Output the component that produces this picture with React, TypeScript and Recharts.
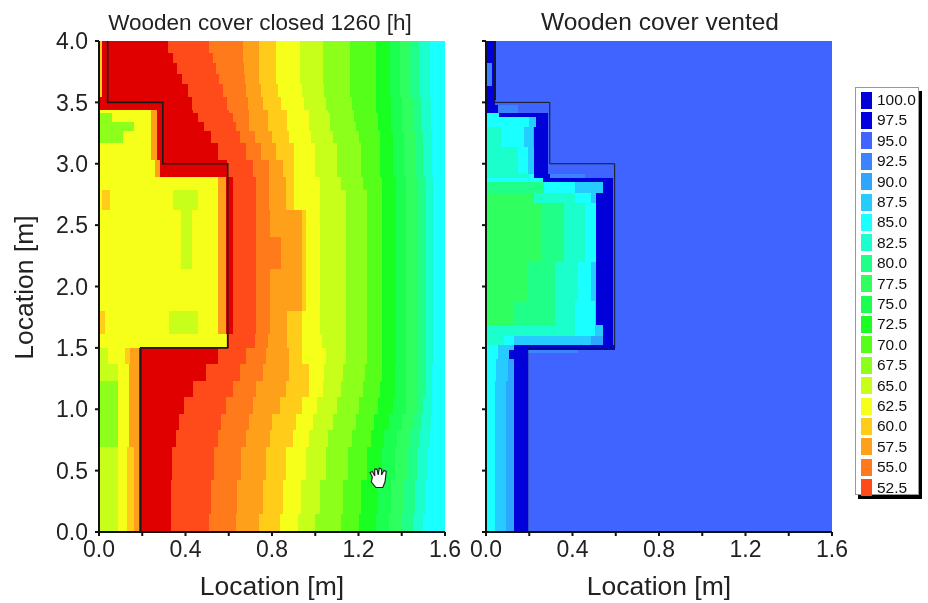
import React from 'react';
import { ScatterChart, Scatter, XAxis, YAxis, ReferenceArea, ReferenceDot } from 'recharts';

// contour level -> colour, 50 is the saturated red under the scale
const levels = [100, 97.5, 95, 92.5, 90, 87.5, 85, 82.5, 80, 77.5, 75, 72.5, 70, 67.5, 65, 62.5, 60, 57.5, 55, 52.5];
const levelColors = ['#0000d8', '#0000e0', '#4064ff', '#3c84ff', '#2ea6ff', '#26ccff', '#1affff', '#1affcc', '#20ff88', '#30ff60', '#1aff50', '#1aff22', '#55ff1a', '#8cff1a', '#c8ff1a', '#f6ff1a', '#ffcc1a', '#ffa01a', '#ff7a1a', '#ff4a1a'];
const darkRed = '#e00000';

const xTicks = [0, 0.2, 0.4, 0.6, 0.8, 1.0, 1.2, 1.4, 1.6];
const xLabelled = [0, 0.4, 0.8, 1.2, 1.6];
const yTicks = [0, 0.5, 1.0, 1.5, 2.0, 2.5, 3.0, 3.5, 4.0];

// cover outline
const coverOutline = [
  { x: 0.04, y: 4 }, { x: 0.04, y: 3.5 }, { x: 0.295, y: 3.5 }, { x: 0.295, y: 3.0 },
  { x: 0.595, y: 3.0 }, { x: 0.595, y: 1.5 }, { x: 0.193, y: 1.5 }, { x: 0.193, y: 0 },
];

// left panel: row edges in y, then for each row the cells left of the red zone and the outer contour edges
const leftEdges = [4.0, 3.9, 3.82, 3.73, 3.65, 3.545, 3.44, 3.41, 3.34, 3.27, 3.165, 3.03, 2.895, 2.79, 2.62, 2.4, 2.14, 2.0, 1.8, 1.61, 1.5, 1.37, 1.23, 1.1, 0.96, 0.83, 0.69, 0.42, 0.15, 0];
const leftInner: number[][][] = [
  [[0.012, 60], [0.32, 50]],
  [[0.012, 60], [0.34, 50]],
  [[0.012, 60], [0.363, 50]],
  [[0.012, 60], [0.386, 50]],
  [[0.012, 60], [0.41, 50]],
  [[0.43, 50]],
  [[0.24, 62.5], [0.27, 57.5], [0.433, 50]],
  [[0.06, 67.5], [0.24, 62.5], [0.27, 57.5], [0.456, 50]],
  [[0.16, 67.5], [0.24, 62.5], [0.27, 57.5], [0.487, 50]],
  [[0.11, 67.5], [0.24, 62.5], [0.27, 57.5], [0.518, 50]],
  [[0.24, 62.5], [0.27, 57.5], [0.549, 50]],
  [[0.26, 62.5], [0.28, 57.5], [0.592, 50]],
  [[0.55, 62.5], [0.585, 57.5], [0.618, 50]],
  [[0.015, 62.5], [0.05, 60], [0.34, 62.5], [0.46, 65], [0.55, 62.5], [0.585, 57.5], [0.618, 50]],
  [[0.38, 62.5], [0.43, 65], [0.55, 62.5], [0.585, 57.5], [0.618, 50]],
  [[0.38, 62.5], [0.43, 65], [0.55, 62.5], [0.585, 57.5], [0.618, 50]],
  [[0.55, 62.5], [0.585, 57.5], [0.618, 50]],
  [[0.55, 62.5], [0.585, 57.5], [0.618, 50]],
  [[0.03, 60], [0.325, 62.5], [0.46, 65], [0.55, 62.5], [0.585, 57.5], [0.618, 50]],
  [[0.59, 62.5], [0.6, 50]],
  [[0.04, 65], [0.12, 62.5], [0.145, 60], [0.185, 57.5], [0.55, 50]],
  [[0.09, 65], [0.14, 62.5], [0.185, 57.5], [0.495, 50]],
  [[0.09, 67.5], [0.14, 62.5], [0.185, 57.5], [0.433, 50]],
  [[0.09, 67.5], [0.14, 62.5], [0.185, 57.5], [0.394, 50]],
  [[0.09, 67.5], [0.14, 62.5], [0.185, 57.5], [0.37, 50]],
  [[0.09, 67.5], [0.14, 62.5], [0.185, 57.5], [0.355, 50]],
  [[0.09, 65], [0.13, 62.5], [0.16, 60], [0.185, 57.5], [0.337, 50]],
  [[0.09, 65], [0.13, 62.5], [0.16, 60], [0.185, 57.5], [0.332, 50]],
  [[0.09, 65], [0.13, 62.5], [0.16, 60], [0.185, 57.5], [0.332, 50]],
];
// edge of the 52.5, 55 ... 82.5 bands in each row, 85 runs on to the border
const leftOuterLevels = [52.5, 55, 57.5, 60, 62.5, 65, 67.5, 70, 72.5, 75, 77.5, 80, 82.5];
const leftOuter: number[][] = [
  [0.51, 0.665, 0.74, 0.82, 0.93, 1.035, 1.16, 1.28, 1.345, 1.39, 1.44, 1.48, 1.53],
  [0.525, 0.665, 0.74, 0.82, 0.93, 1.035, 1.16, 1.28, 1.345, 1.39, 1.44, 1.48, 1.53],
  [0.541, 0.67, 0.74, 0.82, 0.93, 1.035, 1.16, 1.28, 1.345, 1.39, 1.44, 1.48, 1.53],
  [0.555, 0.675, 0.74, 0.82, 0.93, 1.035, 1.16, 1.28, 1.345, 1.39, 1.44, 1.48, 1.53],
  [0.572, 0.68, 0.75, 0.83, 0.94, 1.04, 1.16, 1.28, 1.345, 1.39, 1.44, 1.48, 1.53],
  [0.59, 0.688, 0.76, 0.84, 0.95, 1.05, 1.17, 1.28, 1.35, 1.4, 1.45, 1.49, 1.535],
  [0.603, 0.695, 0.78, 0.87, 0.97, 1.06, 1.18, 1.28, 1.35, 1.4, 1.45, 1.49, 1.535],
  [0.619, 0.695, 0.78, 0.87, 0.97, 1.07, 1.18, 1.29, 1.35, 1.4, 1.45, 1.49, 1.535],
  [0.634, 0.695, 0.78, 0.87, 0.97, 1.07, 1.19, 1.29, 1.35, 1.4, 1.45, 1.49, 1.535],
  [0.65, 0.72, 0.8, 0.88, 0.98, 1.08, 1.2, 1.3, 1.36, 1.41, 1.46, 1.5, 1.54],
  [0.68, 0.75, 0.82, 0.9, 1.0, 1.1, 1.21, 1.3, 1.36, 1.41, 1.46, 1.5, 1.54],
  [0.71, 0.788, 0.85, 0.9, 1.0, 1.1, 1.21, 1.3, 1.36, 1.41, 1.46, 1.5, 1.54],
  [0.726, 0.788, 0.865, 0.904, 1.02, 1.12, 1.22, 1.31, 1.375, 1.42, 1.47, 1.51, 1.545],
  [0.726, 0.788, 0.865, 0.904, 1.02, 1.14, 1.24, 1.31, 1.375, 1.42, 1.47, 1.51, 1.545],
  [0.726, 0.79, 0.94, 0.958, 1.02, 1.14, 1.24, 1.31, 1.375, 1.42, 1.47, 1.51, 1.545],
  [0.726, 0.84, 0.94, 0.958, 1.02, 1.14, 1.24, 1.31, 1.375, 1.42, 1.47, 1.51, 1.545],
  [0.726, 0.79, 0.94, 0.958, 1.02, 1.14, 1.24, 1.31, 1.375, 1.42, 1.47, 1.51, 1.545],
  [0.726, 0.79, 0.94, 0.958, 1.02, 1.14, 1.24, 1.31, 1.375, 1.42, 1.47, 1.51, 1.545],
  [0.726, 0.79, 0.87, 0.94, 1.02, 1.14, 1.24, 1.31, 1.375, 1.42, 1.47, 1.51, 1.545],
  [0.72, 0.78, 0.87, 0.94, 1.03, 1.14, 1.24, 1.31, 1.375, 1.42, 1.47, 1.51, 1.545],
  [0.68, 0.773, 0.88, 0.94, 1.05, 1.14, 1.24, 1.31, 1.375, 1.42, 1.47, 1.51, 1.545],
  [0.65, 0.757, 0.88, 0.97, 1.04, 1.13, 1.23, 1.31, 1.37, 1.42, 1.47, 1.51, 1.54],
  [0.618, 0.726, 0.866, 0.97, 1.035, 1.12, 1.22, 1.3, 1.37, 1.42, 1.47, 1.51, 1.54],
  [0.587, 0.71, 0.835, 0.94, 1.01, 1.1, 1.2, 1.29, 1.36, 1.42, 1.47, 1.5, 1.54],
  [0.564, 0.695, 0.8, 0.91, 0.99, 1.08, 1.19, 1.27, 1.34, 1.4, 1.45, 1.49, 1.535],
  [0.55, 0.68, 0.79, 0.896, 0.97, 1.06, 1.17, 1.26, 1.32, 1.38, 1.44, 1.48, 1.53],
  [0.533, 0.657, 0.77, 0.865, 0.958, 1.05, 1.15, 1.24, 1.31, 1.37, 1.43, 1.47, 1.52],
  [0.518, 0.64, 0.757, 0.85, 0.935, 1.02, 1.13, 1.21, 1.29, 1.35, 1.41, 1.46, 1.51],
  [0.51, 0.634, 0.742, 0.835, 0.92, 1.0, 1.12, 1.2, 1.28, 1.34, 1.4, 1.45, 1.5],
];

// right panel: same idea, each row a run of [x end, level]
const rightEdges = [4.0, 3.82, 3.63, 3.52, 3.48, 3.41, 3.38, 3.3, 3.14, 2.92, 2.885, 2.85, 2.76, 2.68, 2.2, 1.88, 1.69, 1.6, 1.52, 1.48, 1.46, 1.41, 1.23, 0];
const rightCells: number[][][] = [
  [[0.046, 100], [1.6, 95]],
  [[0.03, 92.5], [0.046, 100], [1.6, 95]],
  [[0.046, 100], [1.6, 95]],
  [[0.04, 100], [1.6, 95]],
  [[0.054, 100], [0.147, 92.5], [1.6, 95]],
  [[0.06, 85], [0.286, 100], [1.6, 95]],
  [[0.2, 85], [0.232, 87.5], [0.289, 100], [1.6, 95]],
  [[0.07, 82.5], [0.178, 85], [0.216, 87.5], [0.224, 90], [0.289, 100], [1.6, 95]],
  [[0.147, 82.5], [0.194, 85], [0.224, 87.5], [0.289, 100], [1.6, 95]],
  [[0.2, 82.5], [0.224, 85], [0.294, 100], [0.456, 92.5], [1.6, 95]],
  [[0.263, 85], [0.587, 100], [1.6, 95]],
  [[0.27, 80], [0.41, 85], [0.541, 87.5], [0.587, 100], [1.6, 95]],
  [[0.224, 77.5], [0.41, 82.5], [0.487, 85], [0.51, 87.5], [0.587, 100], [1.6, 95]],
  [[0.255, 77.5], [0.363, 80], [0.456, 82.5], [0.51, 85], [0.587, 100], [1.6, 95]],
  [[0.19, 77.5], [0.317, 80], [0.425, 82.5], [0.487, 85], [0.51, 87.5], [0.587, 100], [1.6, 95]],
  [[0.131, 77.5], [0.317, 80], [0.41, 82.5], [0.502, 85], [0.51, 87.5], [0.587, 100], [1.6, 95]],
  [[0.41, 82.5], [0.502, 85], [0.541, 87.5], [0.587, 100], [1.6, 95]],
  [[0.085, 82.5], [0.131, 85], [0.487, 87.5], [0.541, 90], [0.587, 100], [1.6, 95]],
  [[0.054, 85], [0.131, 87.5], [0.595, 100], [1.6, 95]],
  [[0.054, 85], [0.108, 87.5], [0.193, 100], [0.425, 92.5], [1.6, 95]],
  [[0.054, 85], [0.108, 87.5], [0.193, 100], [1.6, 95]],
  [[0.046, 85], [0.1, 87.5], [0.128, 90], [0.193, 100], [1.6, 95]],
  [[0.04, 85], [0.093, 87.5], [0.128, 90], [0.193, 100], [1.6, 95]],
];

const cursorSpot = { x: 1.29, y: 0.44 };

const FONT = '"Liberation Sans", Arial, sans-serif';

function colorOf(level: number) {
  const i = levels.indexOf(level);
  return i >= 0 ? levelColors[i] : darkRed;
}

// crisp rects so neighbouring cells do not leave seams
const CellRect = (p: any) => (
  <rect x={p.x} y={p.y} width={p.width} height={p.height} fill={p.fill} shapeRendering="crispEdges" />
);

const HandCursor = (p: any) => (
  <path
    transform={`translate(${p.cx - 9},${p.cy - 10}) scale(1.15)`}
    d="M3 8 L1 4 L3 3 L5 7 L5 1 L7 1 L8 6 L9 0 L11 1 L11 6 L13 2 L15 3 L14 12 L12 17 L6 17 L2 12 Z"
    fill="#fff"
    stroke="#222"
    strokeWidth={1}
  />
);

function runsToCells(edges: number[], rows: number[][][]) {
  return rows.flatMap((row, r) => {
    let x0 = 0;
    return row.map(([x1, level]) => {
      const cell = { x1: x0, x2: x1, y1: edges[r + 1], y2: edges[r], fill: colorOf(level) };
      x0 = x1;
      return cell;
    });
  });
}

const leftRows = leftInner.map((inner, r) => [
  ...inner,
  ...leftOuter[r].map((edge, i) => [edge, leftOuterLevels[i]]),
  [1.6, 85],
]);
const leftAreas = runsToCells(leftEdges, leftRows);
const rightAreas = runsToCells(rightEdges, rightCells);

const tickStyle = { fontSize: 23, fill: '#222', fontFamily: FONT };
const labelStyle = { fontSize: 26.5, fill: '#222', fontFamily: FONT };

function Panel({ areas, left, showY, strokeW, hand }: { areas: any[]; left: number; showY: boolean; strokeW: number; hand?: boolean }) {
  return (
    <div style={{ position: 'absolute', left, top: 0 }}>
      <ScatterChart width={430} height={603} margin={{ top: 41, right: 30, bottom: 41, left: 0 }}>
        <XAxis
          type="number"
          dataKey="x"
          domain={[0, 1.6]}
          ticks={xTicks}
          interval={0}
          tickFormatter={(v: number) => (xLabelled.includes(v) ? v.toFixed(1) : '')}
          tick={tickStyle}
          tickSize={4}
          tickMargin={5}
          axisLine={{ stroke: '#111', strokeWidth: 2 }}
          tickLine={{ stroke: '#111', strokeWidth: 2 }}
          label={{ value: 'Location [m]', position: 'insideBottom', offset: -33, style: labelStyle }}
        />
        <YAxis
          type="number"
          dataKey="y"
          domain={[0, 4]}
          ticks={yTicks}
          interval={0}
          width={54}
          tickFormatter={(v: number) => (showY ? v.toFixed(1) : '')}
          tick={tickStyle}
          tickSize={4}
          tickMargin={7}
          axisLine={{ stroke: '#111', strokeWidth: 2 }}
          tickLine={{ stroke: '#111', strokeWidth: 2 }}
        />
        {areas.map((a, i) => (
          <ReferenceArea key={i} x1={a.x1} x2={a.x2} y1={a.y1} y2={a.y2} fill={a.fill} fillOpacity={1} stroke="none" shape={CellRect} />
        ))}
        <Scatter
          data={coverOutline}
          line={{ stroke: '#1a1a1a', strokeWidth: strokeW }}
          lineType="joint"
          shape={() => null}
          isAnimationActive={false}
        />
        {hand && <ReferenceDot x={cursorSpot.x} y={cursorSpot.y} r={8} shape={HandCursor} />}
      </ScatterChart>
    </div>
  );
}

export default function App() {
  return (
    <div style={{ position: 'fixed', left: 0, top: 0, width: 928, height: 603, background: '#fff', fontFamily: FONT, overflow: 'hidden', filter: 'blur(0.5px)' }}>
      <Panel areas={leftAreas} left={45} showY strokeW={1.6} hand />
      <Panel areas={rightAreas} left={432} showY={false} strokeW={1} />

      <div style={{ position: 'absolute', left: 60, width: 400, top: 10, textAlign: 'center', fontSize: 22.5, color: '#222', whiteSpace: 'nowrap' }}>
        Wooden cover closed 1260 [h]
      </div>
      <div style={{ position: 'absolute', left: 460, width: 400, top: 8, textAlign: 'center', fontSize: 24.5, color: '#222', whiteSpace: 'nowrap' }}>
        Wooden cover vented
      </div>
      <div
        style={{
          position: 'absolute',
          left: -76,
          top: 272,
          width: 200,
          textAlign: 'center',
          fontSize: 26.5,
          color: '#222',
          whiteSpace: 'nowrap',
          transform: 'rotate(-90deg)',
        }}
      >
        Location [m]
      </div>

      <div
        style={{
          position: 'absolute',
          left: 855,
          top: 87,
          width: 62,
          height: 406,
          border: '1px solid #999',
          background: '#fff',
          boxShadow: '3px 4px 0 #000',
        }}
      >
        {levels.map((lv, i) => (
          <div key={lv} style={{ position: 'absolute', left: 5, top: 3 + i * 20.4, height: 18, display: 'flex', alignItems: 'center' }}>
            <span style={{ display: 'inline-block', width: 11, height: 17, background: levelColors[i] }} />
            <span style={{ marginLeft: 5, fontSize: 15.5, color: '#111', lineHeight: '18px' }}>{lv.toFixed(1)}</span>
          </div>
        ))}
      </div>
    </div>
  );
}
